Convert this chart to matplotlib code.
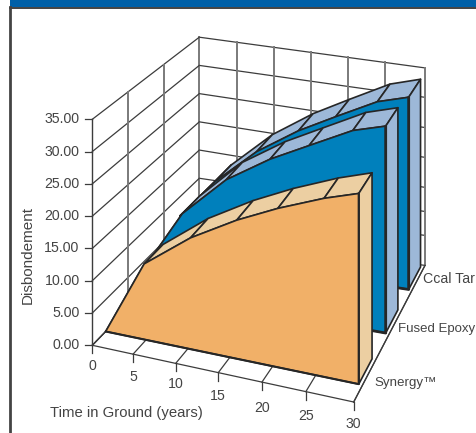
import numpy as np
import matplotlib
matplotlib.use('Agg')
import matplotlib.pyplot as plt
from matplotlib.patches import Polygon, Rectangle

# values
years = [0, 5, 10, 15, 20, 25, 30]
levels = [0, 5, 10, 15, 20, 25, 30, 35]
synergy = [0.0, 11.9, 17.5, 21.8, 25.0, 28.1, 30.0]
fused_epoxy = [4.0, 13.7, 20.6, 25.3, 28.7, 32.5, 34.2]
coal_tar = [6.7, 13.5, 19.8, 24.5, 27.9, 31.6, 33.2]
series_names = ['Synergy\u2122', 'Fused Epoxy', 'Ccal Tar']

# the box is a skewed 3D chart, so corners are in pixels and everything is lerped
FL, FR = np.array([92.3, 345.3]), np.array([353.7, 402.0])
BL, BR = np.array([199.3, 234.7]), np.array([425.0, 265.4])
H_FRONT, H_BACK, V_MAX = 226.0, 197.5, 35.0

# spacing along the time axis is not quite even in the original
front_ticks = [0, .156, .319, .482, .649, .817, 1]
back_ticks = [0, .167, .331, .495, .659, .823, 1]
data_pos = [0, .15, .33, .51, .67, .85, .985]
back_right_levels = [0, .152, .273, .395, .547, .698, .851, 1]

INK = '#262626'
GRID = '#3c3c3c'
POST = '#7a7a7a'
TXT = '#444444'
FS = 10.2
plt.rcParams['font.family'] = ['Liberation Sans', 'DejaVu Sans']


def project(f, d, v=0.0):
    pt = (1 - d) * (FL + f * (FR - FL)) + d * (BL + f * (BR - BL))
    h = H_FRONT + d * (H_BACK - H_FRONT)
    return pt - np.array([0, h * v / V_MAX])


def draw_walls(ax):
    # back wall
    for i, lv in enumerate(levels):
        a = project(0, 1, lv)
        b = BR - np.array([0, H_BACK * back_right_levels[i]])
        ax.plot([a[0], b[0]], [a[1], b[1]], color=GRID, lw=0.9, zorder=1)
    for fb in back_ticks:
        a, b = project(fb, 1, 0), project(fb, 1, V_MAX)
        ax.plot([a[0], b[0]], [a[1], b[1]], color=POST, lw=1.4, zorder=1)
    # left wall
    for lv in levels:
        a, b = project(0, 0, lv), project(0, 1, lv)
        ax.plot([a[0], b[0]], [a[1], b[1]], color=GRID, lw=0.9, zorder=1)
        ax.plot([a[0] - 7, a[0]], [a[1], a[1]], color=GRID, lw=0.9, zorder=1)
        ax.text(79.5, a[1], '%.2f' % lv, ha='right', va='center', fontsize=FS, color=TXT)
    for d in [1 / 3, 2 / 3]:
        a, b = project(0, d, 0), project(0, d, V_MAX)
        ax.plot([a[0], b[0]], [a[1], b[1]], color=POST, lw=1.4, zorder=1)
    a, b = project(0, 0, 0), project(0, 0, V_MAX)
    ax.plot([a[0], b[0]], [a[1], b[1]], color=GRID, lw=1.0, zorder=1)
    # floor
    for ff, fb in zip(front_ticks, back_ticks):
        a = FL + ff * (FR - FL)
        b = BL + fb * (BR - BL)
        ax.plot([a[0], b[0]], [a[1], b[1]], color=GRID, lw=0.9, zorder=1)
        ax.plot([a[0], a[0]], [a[1], a[1] + 8], color=GRID, lw=0.9, zorder=1)
    for p, q in [(FL, FR), (FR, BR), (FL, BL)]:
        ax.plot([p[0], q[0]], [p[1], q[1]], color=GRID, lw=0.9, zorder=1)


def draw_series(ax, values, d0, d1, front_col, side_col, edge_lw, z):
    kw = dict(ec=INK, lw=1.2, joinstyle='round', zorder=z)
    # top strips between the readings
    for i in range(len(values) - 1):
        quad = [project(data_pos[i], d0, values[i]), project(data_pos[i + 1], d0, values[i + 1]),
                project(data_pos[i + 1], d1, values[i + 1]), project(data_pos[i], d1, values[i])]
        ax.add_patch(Polygon(quad, fc=side_col, **kw))
    # right hand side
    end = data_pos[-1]
    side = [project(end, d0, values[-1]), project(end, d1, values[-1]),
            project(end, d1, 0), project(end, d0, 0)]
    ax.add_patch(Polygon(side, fc=side_col, **kw))
    # front face
    top = [project(p, d0, v) for p, v in zip(data_pos, values)]
    face = [project(0, d0, 0)] + top + [project(end, d0, 0)]
    ax.add_patch(Polygon(face, fc=front_col, **kw))
    # heavier lines round the front corner
    c0, c1, c2 = project(end, d0, values[-1]), project(end, d0, 0), project(0, d0, 0)
    ax.plot([c0[0], c1[0], c2[0]], [c0[1], c1[1], c2[1]], color=INK, lw=edge_lw,
            solid_capstyle='round', zorder=z)


fig = plt.figure(figsize=(4.76, 4.33), dpi=100)
ax = fig.add_axes([0, 0, 1, 1])
ax.set_xlim(0, 476)
ax.set_ylim(433, 0)
ax.axis('off')

# page furniture round the chart
ax.add_patch(Rectangle((10, 0), 466, 7, fc='#0060a8', ec='none'))
ax.plot([10, 476], [7.6, 7.6], color='#222222', lw=1.2)
ax.plot([10.3, 10.3], [7, 433], color='#444444', lw=2.0)

draw_walls(ax)
draw_series(ax, coal_tar, .82, .985, '#0080bc', '#9db8d8', 2.0, 3)
draw_series(ax, fused_epoxy, .50, .67, '#0080bc', '#9db8d8', 2.0, 4)
draw_series(ax, synergy, .125, .31, '#f1b068', '#eccfa2', 1.5, 5)

label_dy = [20.7, 23, 20.6, 23.3, 26, 24.3, 22.3]
for yr, ff, dy in zip(years, front_ticks, label_dy):
    a = FL + ff * (FR - FL)
    ax.text(a[0], a[1] + dy, str(yr), ha='center', va='center', fontsize=FS, color=TXT)

ax.text(126, 413.5, 'Time in Ground (years)', ha='center', va='center', fontsize=10.7, color=TXT)
ax.text(28, 255, 'Disbondement', rotation=90, ha='center', va='center', fontsize=11, color=TXT)
ax.text(423, 279, series_names[2], ha='left', va='center', fontsize=FS, color=TXT)
ax.text(398.5, 329, series_names[1], ha='left', va='center', fontsize=9.5, color=TXT)
ax.text(374, 383, series_names[0], ha='left', va='center', fontsize=9.6, color=TXT)

fig.savefig('out.png', dpi=100)
